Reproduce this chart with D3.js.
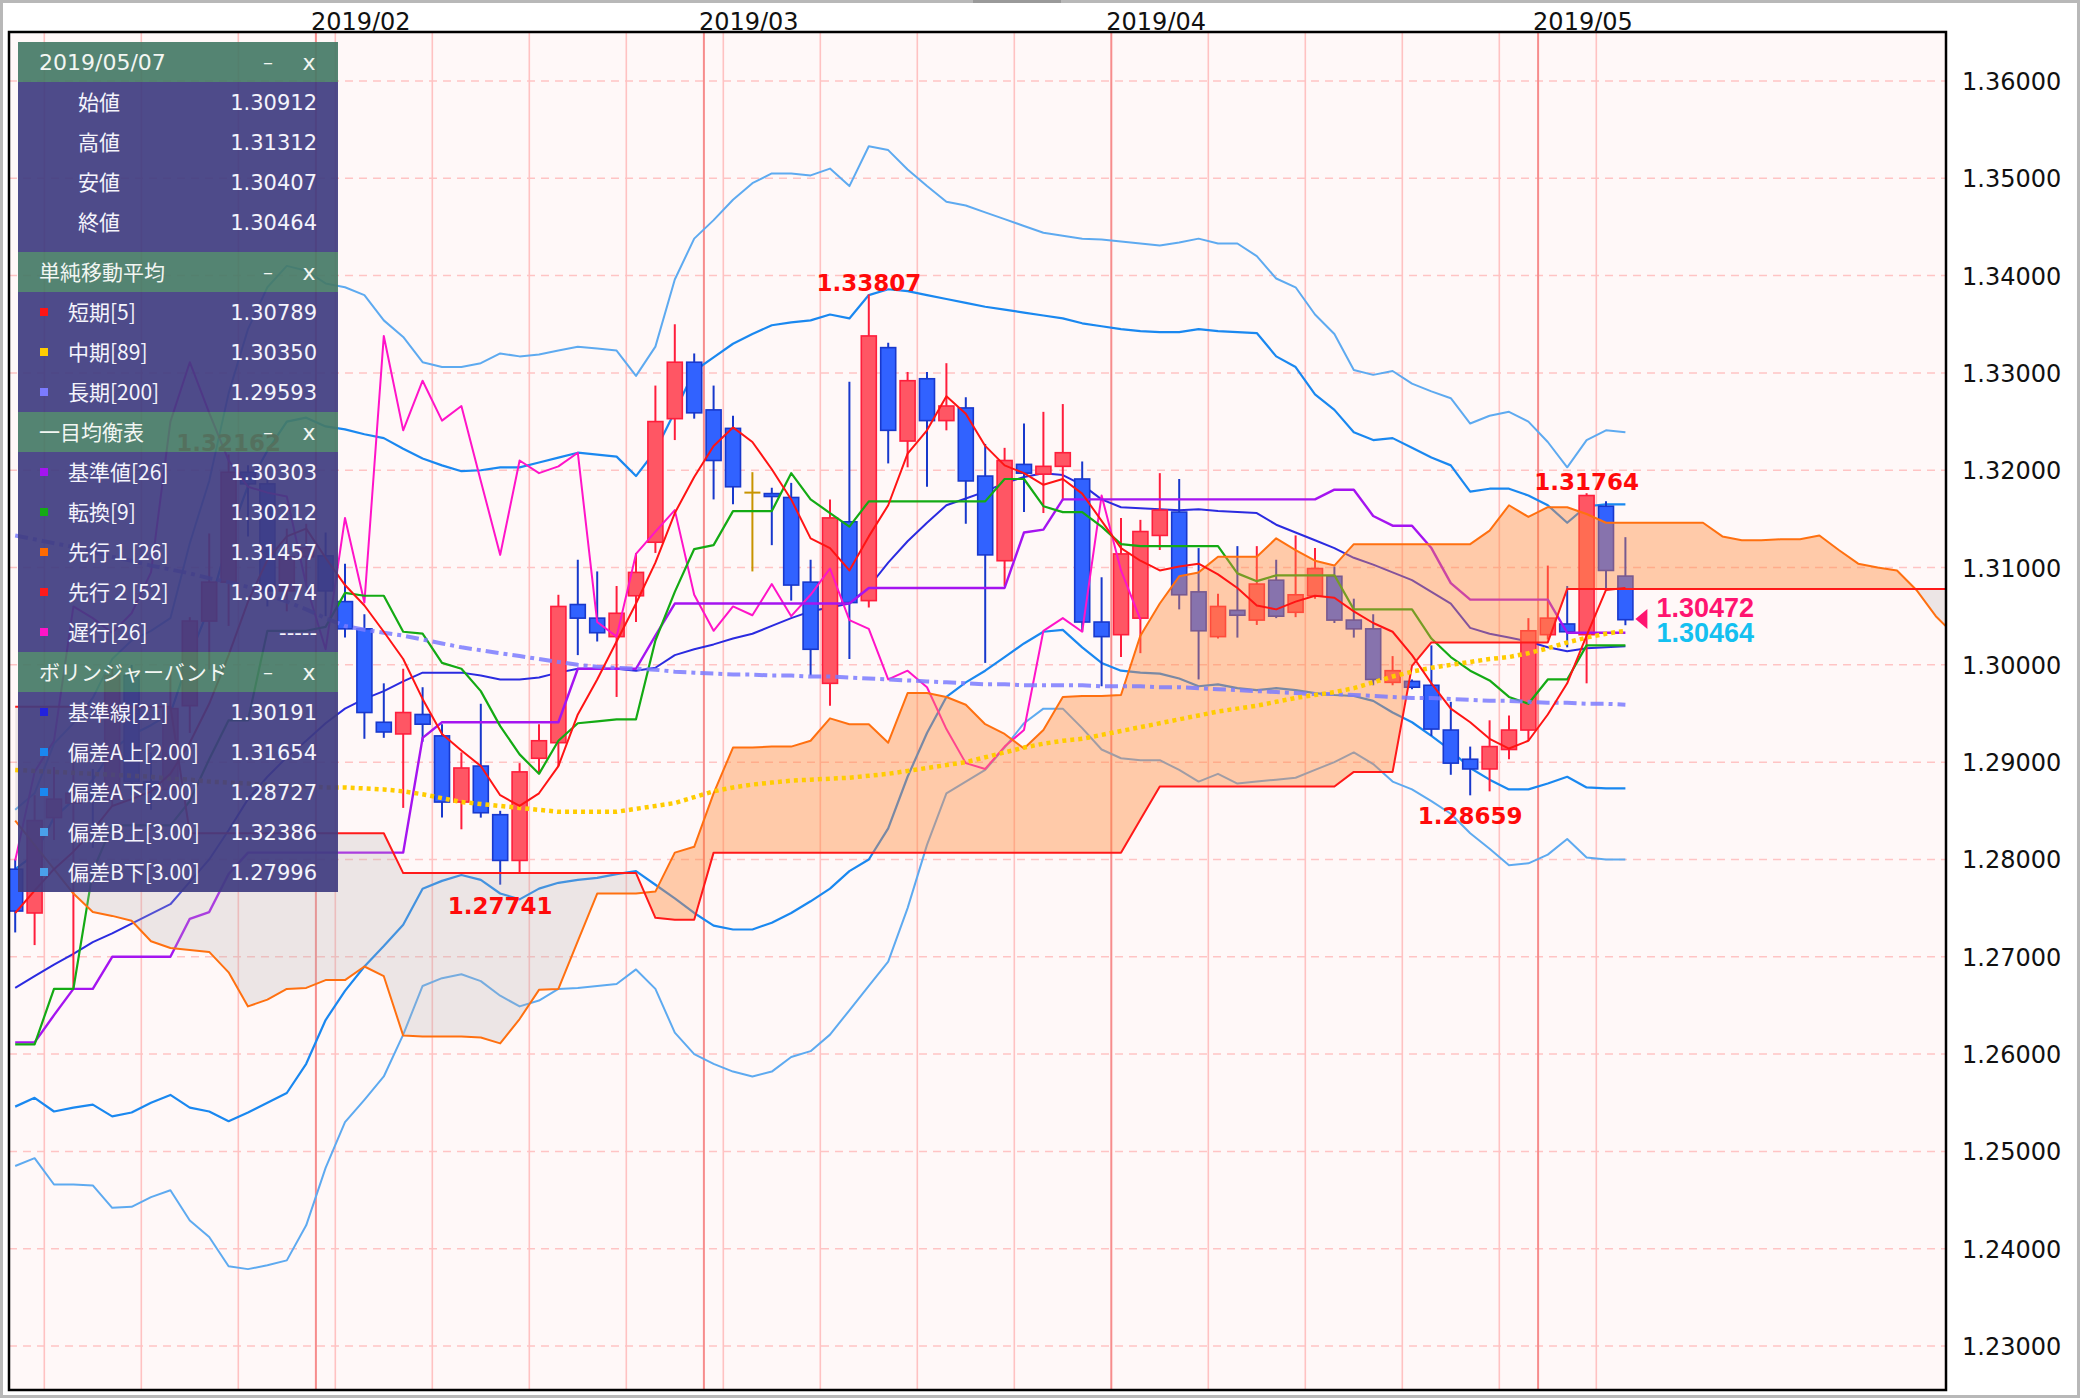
<!DOCTYPE html>
<html><head><meta charset="utf-8">
<script src="https://cdn.jsdelivr.net/npm/d3@7"></script>
<style>html,body{margin:0;padding:0;background:#fff;}svg{display:block;}</style>
</head><body>
<svg id="chart" width="2080" height="1398"></svg>
<script>
// ---------------- data ----------------
const dates = ["2019-01-10","2019-01-11","2019-01-14","2019-01-15","2019-01-16","2019-01-17","2019-01-18","2019-01-21","2019-01-22","2019-01-23","2019-01-24","2019-01-25","2019-01-28","2019-01-29","2019-01-30","2019-01-31",
"2019-02-01","2019-02-04","2019-02-05","2019-02-06","2019-02-07","2019-02-08","2019-02-11","2019-02-12","2019-02-13","2019-02-14","2019-02-15","2019-02-18","2019-02-19","2019-02-20","2019-02-21","2019-02-22","2019-02-25","2019-02-26","2019-02-27","2019-02-28",
"2019-03-01","2019-03-04","2019-03-05","2019-03-06","2019-03-07","2019-03-08","2019-03-11","2019-03-12","2019-03-13","2019-03-14","2019-03-15","2019-03-18","2019-03-19","2019-03-20","2019-03-21","2019-03-22","2019-03-25","2019-03-26","2019-03-27","2019-03-28","2019-03-29",
"2019-04-01","2019-04-02","2019-04-03","2019-04-04","2019-04-05","2019-04-08","2019-04-09","2019-04-10","2019-04-11","2019-04-12","2019-04-15","2019-04-16","2019-04-17","2019-04-18","2019-04-19","2019-04-22","2019-04-23","2019-04-24","2019-04-25","2019-04-26","2019-04-29","2019-04-30",
"2019-05-01","2019-05-02","2019-05-03","2019-05-06","2019-05-07"];

const opens = [1.2790,1.2745,1.2843,1.2858,1.2868,1.2862,1.2989,1.2880,1.2872,1.2958,1.3045,1.3085,
1.3198,1.3186,1.3076,1.3111,1.3112,1.3065,1.3037,1.2941,1.2929,1.2949,
1.2927,1.2859,1.2896,1.2846,1.2799,1.2904,1.2920,1.3062,1.3048,1.3029,
1.3071,1.3126,1.3253,1.3311,1.3262,1.3243,1.3177,1.3176,1.3172,1.3085,
1.2981,1.3147,1.3066,1.3326,1.3230,1.3294,1.3251,1.3264,1.3194,1.3107,
1.3206,1.3196,1.3204,1.3191,1.3044,1.3031,1.3048,1.3133,1.3157,1.3075,
1.3029,1.3056,1.3046,1.3087,1.3054,1.3071,1.3091,1.3046,1.3037,1.2982,
1.2983,1.2979,1.2933,1.2903,1.2893,1.2913,1.2933,1.3031,1.3042,1.3031,
1.3163,1.30912];
const highs = [1.2800,1.2866,1.2895,1.2905,1.2893,1.3000,1.3000,1.2910,1.2994,1.3049,1.3135,1.32162,
1.3205,1.3200,1.3140,1.3145,1.3136,1.3104,1.3052,1.2981,1.2996,1.2977,
1.2939,1.2910,1.2960,1.2850,1.2899,1.2939,1.3072,1.3108,1.3096,1.3081,
1.3115,1.3287,1.3350,1.3320,1.3287,1.3256,1.3198,1.3182,1.3187,1.3108,
1.3170,1.3291,1.33807,1.3331,1.3301,1.3301,1.3310,1.3275,1.3227,1.3223,
1.3248,1.3260,1.3268,1.3209,1.3090,1.3151,1.3149,1.3197,1.3191,1.3120,
1.3073,1.3122,1.3122,1.3108,1.3133,1.3120,1.3101,1.3068,1.3052,1.3009,
1.2985,1.3020,1.2962,1.2916,1.2943,1.2948,1.3048,1.3102,1.3081,1.31764,
1.3168,1.31312];
const lows = [1.2725,1.2712,1.2820,1.2668,1.2812,1.2855,1.2866,1.2851,1.2860,1.2930,1.2995,1.3040,
1.3132,1.3060,1.3055,1.3082,1.3050,1.3028,1.2924,1.2925,1.2853,1.2921,
1.2843,1.2831,1.2843,1.27741,1.2786,1.2890,1.2896,1.3010,1.3024,1.2967,
1.3044,1.3115,1.3231,1.3253,1.3170,1.3165,1.3096,1.3123,1.3066,1.2989,
1.2958,1.3006,1.3059,1.3207,1.3203,1.3183,1.3241,1.3145,1.3002,1.3081,
1.3157,1.3156,1.3169,1.3034,1.2978,1.3008,1.3012,1.3118,1.3057,1.2985,
1.3027,1.3028,1.3041,1.3048,1.3049,1.3068,1.3043,1.3028,1.2979,1.2979,
1.2975,1.2927,1.2887,1.28659,1.2870,1.2903,1.2922,1.3026,1.3018,1.2981,
1.3079,1.30407];
const closes = [1.2747,1.2840,1.2862,1.2868,1.2862,1.2989,1.2880,1.2872,1.2955,1.3045,1.3085,1.3198,
1.3186,1.3076,1.3111,1.3120,1.3076,1.3037,1.2951,1.2931,1.2951,1.2939,
1.2859,1.2894,1.2848,1.2799,1.2890,1.2922,1.3060,1.3048,1.3033,1.3053,
1.3095,1.3250,1.3311,1.3259,1.3210,1.3183,1.3177,1.3173,1.3082,1.3016,
1.3151,1.3064,1.3338,1.3241,1.3292,1.3251,1.3266,1.3189,1.3113,1.3210,
1.3197,1.3204,1.3218,1.3044,1.3029,1.3114,1.3137,1.3159,1.3072,1.3035,
1.3060,1.3051,1.3083,1.3050,1.3072,1.3099,1.3046,1.3037,1.2985,1.2994,
1.2977,1.2934,1.2899,1.2893,1.2916,1.2933,1.3035,1.3048,1.3034,1.3174,
1.3097,1.30464];

const sma5 = [1.2745,1.2768,1.2790,1.2808,1.2830,1.2855,1.2862,1.2870,1.2888,1.2920,1.2960,1.3010,
1.3065,1.3108,1.3132,1.3140,1.3110,1.3082,1.3061,1.3034,1.3006,1.2965,
1.2929,1.2912,1.2896,1.2866,1.2855,1.2868,1.2896,1.2949,1.2985,1.3024,
1.3063,1.3105,1.3156,1.3193,1.3225,1.3244,1.3229,1.3201,1.3170,1.3130,
1.3120,1.3097,1.3132,1.3164,1.3217,1.3241,1.3276,1.3258,1.3225,1.3205,
1.3197,1.3185,1.3191,1.3176,1.3148,1.3120,1.3107,1.3097,1.3101,1.3104,
1.3093,1.3079,1.3061,1.3057,1.3065,1.3071,1.3069,1.3055,1.3043,1.3034,
1.3010,1.2981,1.2955,1.2941,1.2924,1.2914,1.2922,1.2949,1.2981,1.3030,
1.3077,1.3079];
const sma89 = [1.2892,1.2891,1.2890,1.2889,1.2888,1.2887,1.2886,1.2885,1.2883,1.2882,1.2880,1.2879,
1.2878,1.2877,1.2876,1.2875,1.2874,1.2874,1.2873,1.2872,1.2870,1.2867,
1.2863,1.2859,1.2857,1.2855,1.2853,1.2851,1.2849,1.2849,1.2849,1.2849,
1.2852,1.2855,1.2858,1.2864,1.2870,1.2874,1.2877,1.2879,1.2881,1.2882,
1.2883,1.2884,1.2886,1.2888,1.2891,1.2894,1.2897,1.2900,1.2905,1.2910,
1.2915,1.2919,1.2922,1.2924,1.2928,1.2932,1.2936,1.2940,1.2944,1.2948,
1.2952,1.2955,1.2958,1.2962,1.2966,1.2969,1.2972,1.2976,1.2982,1.2988,
1.2993,1.2997,1.3000,1.3003,1.3006,1.3008,1.3012,1.3017,1.3023,1.3028,
1.3032,1.3035];
const sma200 = [1.3133,1.3129,1.3125,1.3121,1.3116,1.3111,1.3107,1.3102,1.3098,1.3094,1.3089,1.3085,
1.3080,1.3072,1.3065,1.3057,1.3048,1.3040,1.3036,1.3033,1.3030,1.3026,
1.3022,1.3018,1.3015,1.3012,1.3009,1.3006,1.3003,1.3000,1.2998,1.2997,
1.2996,1.2995,1.2993,1.2992,1.2991,1.2990,1.2990,1.2989,1.2989,1.2988,
1.2988,1.2987,1.2986,1.2985,1.2984,1.2983,1.2982,1.2981,1.2980,1.2980,
1.2979,1.2979,1.2979,1.2979,1.2978,1.2978,1.2978,1.2977,1.2977,1.2976,
1.2975,1.2974,1.2973,1.2972,1.2971,1.2970,1.2970,1.2969,1.2968,1.2967,
1.2966,1.2966,1.2965,1.2964,1.2963,1.2963,1.2962,1.2961,1.2961,1.2960,
1.2960,1.2959];

const kijun = [1.2612,1.2612,1.2640,1.2667,1.2667,1.2700,1.2700,1.2700,1.2700,1.2739,1.2746,1.2785,
1.2807,1.2807,1.2807,1.2807,1.2807,1.2807,1.2807,1.2807,1.2807,1.2925,
1.2941,1.2941,1.2941,1.2941,1.2941,1.2941,1.2941,1.2996,1.2996,1.2996,
1.2996,1.3030,1.3063,1.3063,1.3063,1.3063,1.3063,1.3063,1.3063,1.3063,
1.3063,1.3063,1.3079,1.3079,1.3079,1.3079,1.3079,1.3079,1.3079,1.3079,
1.3136,1.3139,1.3170,1.3170,1.3170,1.3170,1.3170,1.3170,1.3170,1.3170,
1.3170,1.3170,1.3170,1.3170,1.3170,1.3170,1.3180,1.3180,1.3153,1.3143,
1.3143,1.3120,1.3084,1.3067,1.3067,1.3067,1.3067,1.3067,1.3033,1.3033,
1.3033,1.3033];
const tenkan = [1.2610,1.2610,1.2667,1.2667,1.2788,1.2835,1.2835,1.2835,1.2835,1.2860,1.2903,1.2943,
1.2943,1.3035,1.3035,1.3035,1.3039,1.3074,1.3071,1.3071,1.3034,1.3032,
1.3002,1.2996,1.2973,1.2937,1.2908,1.2888,1.2922,1.2940,1.2942,1.2944,
1.2944,1.3025,1.3075,1.3119,1.3123,1.3158,1.3158,1.3158,1.3197,1.3170,
1.3156,1.3142,1.3168,1.3168,1.3168,1.3168,1.3168,1.3168,1.3168,1.3191,
1.3191,1.3163,1.3157,1.3157,1.3142,1.3124,1.3122,1.3122,1.3122,1.3122,
1.3122,1.3094,1.3086,1.3092,1.3092,1.3092,1.3092,1.3057,1.3057,1.3057,
1.3057,1.3027,1.3008,1.2994,1.2984,1.2967,1.2960,1.2985,1.2985,1.3020,
1.3020,1.3020];
// senkou spans: plotted positions from 2019-01-10 onward (25 periods ahead of source)
const senkouA = [1.2840,1.2815,1.2790,1.2765,1.2746,1.2742,1.2737,1.2716,1.2709,1.2707,1.2705,1.2684,
1.2649,1.2656,1.2667,1.2668,1.2676,1.2676,1.2690,1.2680,1.2619,1.2618,
1.2618,1.2618,1.2617,1.2611,1.2636,1.2666,1.2667,1.2716,1.2765,1.2765,
1.2765,1.2767,1.2807,1.2813,1.2868,1.2915,1.2915,1.2916,1.2916,1.2922,
1.2945,1.2939,1.2939,1.2920,1.2971,1.2971,1.2967,1.2959,1.2939,1.2929,
1.2914,1.2933,1.2967,1.2968,1.2968,1.2969,1.3030,1.3063,1.3091,1.3095,
1.3111,1.3111,1.3111,1.3130,1.3118,1.3107,1.3102,1.3124,1.3124,1.3124,
1.3124,1.3124,1.3124,1.3124,1.3138,1.3164,1.3152,1.3162,1.3162,1.3155,
1.3146,1.3146,1.3146,1.3146,1.3146,1.3146,1.3132,1.3128,1.3128,1.3129,
1.3129,1.3133,1.3118,1.3104,1.3100,1.3097,1.3077,1.3050,1.3030];
const senkouB = [1.2957,1.2957,1.2957,1.2957,1.2957,1.2957,1.2957,1.2957,1.2957,1.2827,1.2827,1.2827,
1.2827,1.2827,1.2827,1.2827,1.2827,1.2827,1.2827,1.2827,1.2786,1.2786,
1.2786,1.2786,1.2786,1.2786,1.2786,1.2786,1.2786,1.2786,1.2786,1.2786,
1.2786,1.2740,1.2738,1.2738,1.2807,1.2807,1.2807,1.2807,1.2807,1.2807,
1.2807,1.2807,1.2807,1.2807,1.2807,1.2807,1.2807,1.2807,1.2807,1.2807,
1.2807,1.2807,1.2807,1.2807,1.2807,1.2807,1.2841,1.2875,1.2875,1.2875,
1.2875,1.2875,1.2875,1.2875,1.2875,1.2875,1.2875,1.2890,1.2890,1.2890,
1.2999,1.3023,1.3023,1.3023,1.3023,1.3023,1.3023,1.3023,1.3078,1.3078,
1.3078,1.3078,1.3078,1.3078,1.3078,1.3078,1.3078,1.3078,1.3078,1.3078,
1.3078,1.3078,1.3078,1.3078,1.3078,1.3078,1.3078,1.3078,1.3078];
// lagging span, plotted from 2019-01-10 (close of 25 periods later)
const chikou = [1.2799,1.2890,1.2922,1.3060,1.3048,1.3033,1.3053,1.3095,1.3250,1.3311,1.3259,1.3210,
1.3183,1.3177,1.3173,1.3082,1.3016,1.3151,1.3064,1.3338,1.3241,1.3292,
1.3251,1.3266,1.3189,1.3113,1.3210,1.3197,1.3204,1.3218,1.3044,1.3029,
1.3114,1.3137,1.3159,1.3072,1.3035,1.3060,1.3051,1.3083,1.3050,1.3072,
1.3099,1.3046,1.3037,1.2985,1.2994,1.2977,1.2934,1.2899,1.2893,1.2916,
1.2933,1.3035,1.3048,1.3034,1.3174,1.3097,1.30464];

const bbMid = [1.2668,1.2680,1.2692,1.2703,1.2715,1.2724,1.2734,1.2744,1.2754,1.2777,1.2800,1.2830,
1.2862,1.2885,1.2905,1.2922,1.2940,1.2955,1.2965,1.2973,1.2983,1.2992,
1.2992,1.2992,1.2989,1.2985,1.2985,1.2987,1.2992,1.2996,1.2996,1.2996,
1.2994,1.2997,1.3010,1.3016,1.3021,1.3027,1.3032,1.3040,1.3048,1.3055,
1.3059,1.3063,1.3080,1.3105,1.3127,1.3146,1.3164,1.3171,1.3178,1.3187,
1.3193,1.3197,1.3195,1.3185,1.3170,1.3162,1.3161,1.3160,1.3159,1.3160,
1.3158,1.3157,1.3156,1.3144,1.3136,1.3128,1.3120,1.3110,1.3103,1.3095,
1.3087,1.3075,1.3063,1.3038,1.3032,1.3028,1.3024,1.3018,1.3014,1.3017,
1.3018,1.3019];
const bbUp2 = [1.2790,1.2805,1.2843,1.2861,1.2882,1.2912,1.2928,1.2938,1.2950,1.3009,1.3059,1.3129,
1.3184,1.3220,1.3250,1.3254,1.3245,1.3242,1.3237,1.3233,1.3222,1.3212,
1.3205,1.3199,1.3200,1.3203,1.3203,1.3208,1.3213,1.3218,1.3216,1.3214,
1.3194,1.3220,1.3260,1.3302,1.3316,1.3330,1.3340,1.3349,1.3352,1.3354,
1.3360,1.3356,1.3380,1.3386,1.3384,1.3380,1.3376,1.3372,1.3368,1.3365,
1.3362,1.3359,1.3356,1.3351,1.3348,1.3345,1.3343,1.3342,1.3342,1.3345,
1.3343,1.3342,1.3341,1.3317,1.3306,1.3278,1.3262,1.3239,1.3231,1.3233,
1.3223,1.3213,1.3205,1.3178,1.3181,1.3181,1.3174,1.3164,1.3146,1.3163,
1.3165,1.3165];
const bbLo2 = [1.2546,1.2555,1.2541,1.2545,1.2548,1.2536,1.2540,1.2550,1.2558,1.2545,1.2541,1.2531,
1.2540,1.2550,1.2560,1.2590,1.2635,1.2665,1.2690,1.2711,1.2733,1.2770,
1.2778,1.2784,1.2779,1.2765,1.2759,1.2770,1.2776,1.2779,1.2781,1.2785,
1.2788,1.2774,1.2760,1.2745,1.2732,1.2728,1.2728,1.2735,1.2745,1.2757,
1.2770,1.2788,1.2800,1.2832,1.2885,1.2930,1.2967,1.2982,1.2994,1.3008,
1.3022,1.3034,1.3036,1.3018,1.3002,1.2994,1.2992,1.2991,1.2986,1.2978,
1.2980,1.2976,1.2974,1.2976,1.2974,1.2971,1.2969,1.2968,1.2963,1.2951,
1.2941,1.2927,1.2912,1.2894,1.2882,1.2872,1.2872,1.2878,1.2885,1.2874,
1.2873,1.2873];
const bbUp3 = [1.2851,1.2868,1.2919,1.2940,1.2966,1.3006,1.3025,1.3035,1.3048,1.3125,1.3189,1.3279,
1.3345,1.3388,1.3410,1.3405,1.3392,1.3388,1.3380,1.3354,1.3337,1.3311,
1.3306,1.3306,1.3310,1.3320,1.3317,1.3319,1.3323,1.3327,1.3325,1.3323,
1.3297,1.3327,1.3396,1.3438,1.3457,1.3478,1.3495,1.3505,1.3505,1.3503,
1.3510,1.3492,1.3533,1.3529,1.3509,1.3492,1.3476,1.3472,1.3465,1.3458,
1.3451,1.3444,1.3441,1.3438,1.3437,1.3435,1.3433,1.3431,1.3434,1.3438,
1.3433,1.3433,1.3420,1.3397,1.3388,1.3360,1.3340,1.3303,1.3298,1.3302,
1.3289,1.3281,1.3274,1.3248,1.3256,1.3260,1.3250,1.3229,1.3203,1.3231,
1.3241,1.3239];
const bbLo3 = [1.2485,1.2493,1.2466,1.2466,1.2465,1.2442,1.2443,1.2453,1.2460,1.2429,1.2412,1.2382,
1.2379,1.2383,1.2388,1.2424,1.2483,1.2530,1.2553,1.2577,1.2620,1.2670,
1.2678,1.2682,1.2675,1.2660,1.2649,1.2655,1.2667,1.2668,1.2670,1.2672,
1.2687,1.2667,1.2622,1.2600,1.2590,1.2582,1.2577,1.2582,1.2597,1.2603,
1.2620,1.2645,1.2670,1.2695,1.2750,1.2815,1.2868,1.2880,1.2892,1.2915,
1.2940,1.2955,1.2955,1.2935,1.2913,1.2904,1.2902,1.2902,1.2892,1.2880,
1.2888,1.2878,1.2880,1.2882,1.2884,1.2892,1.2900,1.2910,1.2898,1.2880,
1.2872,1.2860,1.2847,1.2827,1.2811,1.2794,1.2796,1.2805,1.2821,1.2802,
1.2800,1.2800];

const yTicks = [1.23,1.24,1.25,1.26,1.27,1.28,1.29,1.30,1.31,1.32,1.33,1.34,1.35,1.36];
const monthLabels = ["2019/02","2019/03","2019/04","2019/05"];
const markIndex = [11,25,44,75,81];
const markPrice = [1.32162,1.27741,1.33807,1.28659,1.31764];
const markKind = ["high","low","high","low","high"];
const lastBid = 1.30472, lastClose = 1.30464;

const panelDate = "2019/05/07";
const ohlcLabels = ["始値","高値","安値","終値"];
const ohlcValues = ["1.30912","1.31312","1.30407","1.30464"];
const smaLabels = ["短期[5]","中期[89]","長期[200]"];
const smaValues = ["1.30789","1.30350","1.29593"];
const ichiLabels = ["基準値[26]","転換[9]","先行１[26]","先行２[52]","遅行[26]"];
const ichiValues = ["1.30303","1.30212","1.31457","1.30774","-----"];
const bbLabels = ["基準線[21]","偏差A上[2.00]","偏差A下[2.00]","偏差B上[3.00]","偏差B下[3.00]"];
const bbValues = ["1.30191","1.31654","1.28727","1.32386","1.27996"];

// ---------------- styles ----------------
const C = {
  sma5:"#ff1414", sma89:"#ffcc00", sma200:"#7b7bff",
  kijun:"#a514f0", tenkan:"#14aa14", spanA:"#ff7010", spanB:"#ff1a1a", chikou:"#ff14c8",
  bbMid:"#2b2be0", bb2:"#1a88f0", bb3:"#5eaaf0"
};
const smaColors = [C.sma5, C.sma89, C.sma200];
const ichiColors = [C.kijun, C.tenkan, "#ff6a00", C.spanB, C.chikou];
const bbColors = ["#2222dd","#1a88f0","#1a88f0","#4aa0ea","#4aa0ea"];

const plot = {x0:9, x1:1946, y0:32, y1:1390};
const svg = d3.select("#chart");
const x = d3.scaleLinear().domain([0, 83]).range([15.2, 1625.4]);
const y = d3.scaleLinear().domain([1.23, 1.36]).range([1346, 81]);
const FONT = "'DejaVu Sans', sans-serif";
const JFONT = "'Noto Sans CJK JP', 'DejaVu Sans', sans-serif";

const defs = svg.append("defs");
defs.append("clipPath").attr("id","plotClip").append("rect")
  .attr("x",plot.x0).attr("y",plot.y0).attr("width",plot.x1-plot.x0).attr("height",plot.y1-plot.y0);

// outer frame
svg.append("rect").attr("x",1.5).attr("y",1.5).attr("width",2077).attr("height",1395)
  .attr("fill","#fff").attr("stroke","#b8b8b8").attr("stroke-width",3);
svg.append("rect").attr("x",973).attr("y",0).attr("width",88).attr("height",3).attr("fill","#9a9a9a");

// plot background
svg.append("rect").attr("x",plot.x0).attr("y",plot.y0).attr("width",plot.x1-plot.x0).attr("height",plot.y1-plot.y0)
  .attr("fill","#fff8f8");

const g = svg.append("g").attr("clip-path","url(#plotClip)");

// horizontal grid
g.selectAll("line.hg").data(yTicks).join("line")
  .attr("x1",plot.x0).attr("x2",plot.x1).attr("y1",d=>y(d)).attr("y2",d=>y(d))
  .attr("stroke","#ffc4c4").attr("stroke-width",1.5).attr("stroke-dasharray","8,6");

// vertical separators (weeks / months)
const seps = [];
for (let i=1;i<dates.length;i++){
  const d = new Date(dates[i]+"T00:00:00Z"), p = new Date(dates[i-1]+"T00:00:00Z");
  if (d.getUTCMonth()!==p.getUTCMonth()) seps.push({i, month:true});
  else if (d.getUTCDay()===1) seps.push({i, month:false});
}
g.selectAll("line.vs").data(seps).join("line")
  .attr("x1",d=>x(d.i-0.5)).attr("x2",d=>x(d.i-0.5)).attr("y1",plot.y0).attr("y2",plot.y1)
  .attr("stroke",d=>d.month?"#f78c8c":"#ffc2c2").attr("stroke-width",d=>d.month?2:1.6);

const line = (off)=>d3.line().defined(d=>d!=null).x((d,i)=>x(i+off)).y(d=>y(d));
function drawLine(arr, color, w, extra){
  const p = g.append("path").attr("d", line(0)(arr)).attr("fill","none")
    .attr("stroke",color).attr("stroke-width",w).attr("stroke-linejoin","round");
  if (extra) extra(p);
  return p;
}

// Bollinger bands
drawLine(bbUp3, C.bb3, 2);
drawLine(bbLo3, C.bb3, 2);
drawLine(bbUp2, C.bb2, 2.2);
drawLine(bbLo2, C.bb2, 2.2);
drawLine(bbMid, C.bbMid, 2);

// candles
const candles = dates.map((d,i)=>({i, o:opens[i], h:highs[i], l:lows[i], c:closes[i]}));
const cg = g.append("g");
function candleStroke(d){ return d.c>d.o ? "#ff1e3c" : (d.c<d.o ? "#1838cc" : "#c89400"); }
function candleFill(d){ return d.c>d.o ? "#ff5664" : "#3162ff"; }
cg.selectAll("line.wick").data(candles).join("line")
  .attr("x1",d=>x(d.i)).attr("x2",d=>x(d.i)).attr("y1",d=>y(d.h)).attr("y2",d=>y(d.l))
  .attr("stroke",candleStroke).attr("stroke-width",2);
cg.selectAll("rect.body").data(candles.filter(d=>d.c!==d.o)).join("rect")
  .attr("x",d=>x(d.i)-7.5).attr("width",15)
  .attr("y",d=>y(Math.max(d.o,d.c))).attr("height",d=>Math.max(1.5,Math.abs(y(d.o)-y(d.c))))
  .attr("fill",candleFill).attr("stroke",candleStroke).attr("stroke-width",1.6);
cg.selectAll("line.doji").data(candles.filter(d=>d.c===d.o)).join("line")
  .attr("x1",d=>x(d.i)-8).attr("x2",d=>x(d.i)+8).attr("y1",d=>y(d.o)).attr("y2",d=>y(d.o))
  .attr("stroke","#c89400").attr("stroke-width",2);

// ichimoku lines (under cloud)
drawLine(chikou, C.chikou, 2);
drawLine(kijun, C.kijun, 2.4);
drawLine(tenkan, C.tenkan, 2.2);

// cloud
const cx = (d,i)=>x(i);
defs.append("clipPath").attr("id","cAbove").append("path")
  .attr("d", d3.area().x(cx).y0(plot.y0-10).y1((d,i)=>y(senkouB[i]))(senkouB));
defs.append("clipPath").attr("id","cBelow").append("path")
  .attr("d", d3.area().x(cx).y0(plot.y1+10).y1((d,i)=>y(senkouB[i]))(senkouB));
const between = d3.area().x(cx).y0((d,i)=>y(senkouB[i])).y1((d,i)=>y(senkouA[i]))(senkouA);
g.append("g").attr("clip-path","url(#cAbove)").append("path").attr("d",between)
  .attr("fill","#ff8a3c").attr("fill-opacity",0.42);
g.append("g").attr("clip-path","url(#cBelow)").append("path").attr("d",between)
  .attr("fill","#b9b1b1").attr("fill-opacity",0.27);
drawLine(senkouA, C.spanA, 2);
drawLine(senkouB, C.spanB, 2);

// moving averages
drawLine(sma200, C.sma200, 4, p=>p.attr("stroke-dasharray","13,5,4,5").attr("stroke-opacity",0.85));
drawLine(sma89, C.sma89, 4.5, p=>p.attr("stroke-dasharray","4,4"));
drawLine(sma5, C.sma5, 2);

// extreme labels
const marks = markIndex.map((m,k)=>({i:m, p:markPrice[k], kind:markKind[k]}));
g.selectAll("text.mark").data(marks).join("text")
  .attr("x",d=>x(d.i)).attr("y",d=>d.kind==="high"? y(d.p)-3 : y(d.p)+29)
  .attr("text-anchor","middle").attr("font-family",FONT).attr("font-weight","bold")
  .attr("font-size",23).attr("fill","#ff0a0a").text(d=>d.p.toFixed(5));

// current price marker
const lastX = x(83);
g.append("path").attr("d",`M${lastX+10},${y(lastBid)} L${lastX+22},${y(lastBid)-10} L${lastX+22},${y(lastBid)+10} Z`)
  .attr("fill","#ff1470");
g.append("text").attr("x",lastX+31).attr("y",y(lastBid)-2).attr("font-family","'Liberation Sans', sans-serif")
  .attr("font-weight","bold").attr("font-size",27).attr("fill","#ff1470").text(lastBid.toFixed(5));
g.append("text").attr("x",lastX+31).attr("y",y(lastBid)+23).attr("font-family","'Liberation Sans', sans-serif")
  .attr("font-weight","bold").attr("font-size",27).attr("fill","#14c0f0").text(lastClose.toFixed(5));

// plot border
svg.append("rect").attr("x",plot.x0).attr("y",plot.y0).attr("width",plot.x1-plot.x0).attr("height",plot.y1-plot.y0)
  .attr("fill","none").attr("stroke","#000").attr("stroke-width",2.5);

// y axis labels
svg.selectAll("text.yl").data(yTicks).join("text")
  .attr("x",1962).attr("y",d=>y(d)+9).attr("font-family",FONT).attr("font-size",24)
  .attr("fill","#111").text(d=>d.toFixed(5));

// month labels
const monthSeps = seps.filter(s=>s.month);
svg.selectAll("text.ml").data(monthSeps).join("text")
  .attr("x",d=>x(d.i-0.5)-5).attr("y",30).attr("font-family",FONT).attr("font-size",24)
  .attr("fill","#111").text((d,k)=>monthLabels[k]);

// ---------------- info panel ----------------
const panel = svg.append("g");
const PX = 18, PW = 320;
let py = 42;
const HEAD = "#457a66", BODY = "#3f3c80", OP = 0.92;
function header(title, latin){
  panel.append("rect").attr("x",PX).attr("y",py).attr("width",PW).attr("height",40).attr("fill",HEAD).attr("fill-opacity",OP);
  panel.append("text").attr("x",39).attr("y",py+28).attr("font-family",latin?FONT:JFONT).attr("font-size",latin?22:21).attr("fill","#f2f6f2").text(title);
  panel.append("text").attr("x",268).attr("y",py+27).attr("text-anchor","middle").attr("font-family",FONT).attr("font-size",20).attr("fill","#f2f6f2").text("–");
  panel.append("text").attr("x",309).attr("y",py+28).attr("text-anchor","middle").attr("font-family",FONT).attr("font-size",22).attr("fill","#f2f6f2").text("x");
  py += 40;
}
function row(label, value, color){
  panel.append("rect").attr("x",PX).attr("y",py).attr("width",PW).attr("height",40).attr("fill",BODY).attr("fill-opacity",OP);
  if (color) panel.append("rect").attr("x",40).attr("y",py+16).attr("width",8).attr("height",8).attr("fill",color);
  panel.append("text").attr("x",color?68:78).attr("y",py+28).attr("font-family",JFONT).attr("font-size",21).attr("fill","#f4f4fc").text(label);
  panel.append("text").attr("x",317).attr("y",py+28).attr("text-anchor","end").attr("font-family",FONT).attr("font-size",21).attr("fill","#f4f4fc").text(value);
  py += 40;
}
function pad(h){
  panel.append("rect").attr("x",PX).attr("y",py).attr("width",PW).attr("height",h).attr("fill",BODY).attr("fill-opacity",OP);
  py += h;
}
header(panelDate, true);
ohlcLabels.forEach((l,k)=>row(l, ohlcValues[k], null));
pad(10);
header("単純移動平均");
smaLabels.forEach((l,k)=>row(l, smaValues[k], smaColors[k]));
header("一目均衡表");
ichiLabels.forEach((l,k)=>row(l, ichiValues[k], ichiColors[k]));
header("ボリンジャーバンド");
bbLabels.forEach((l,k)=>row(l, bbValues[k], bbColors[k]));
</script>
</body></html>
